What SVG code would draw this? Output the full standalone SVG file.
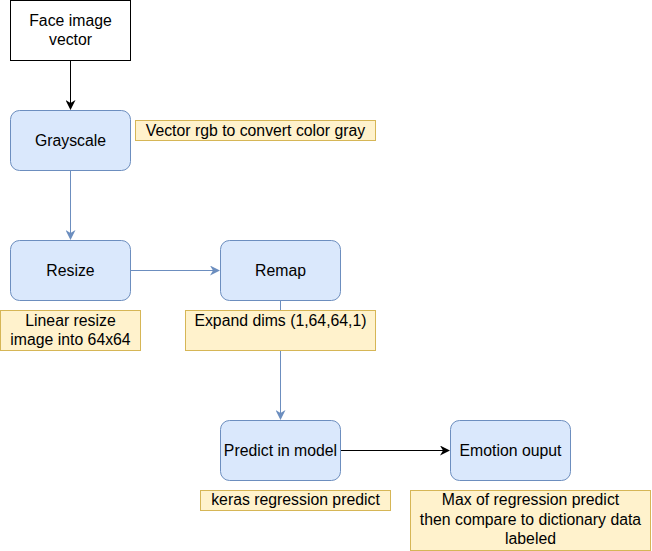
<svg xmlns="http://www.w3.org/2000/svg" width="652" height="551" viewBox="0 0 652 551">
<style>
text{font-family:"Liberation Sans",Arial,Helvetica,sans-serif;font-size:15.8px;fill:#000;text-anchor:middle}
.proc{fill:#dae8fc;stroke:#6c8ebf;stroke-width:1}
.note{fill:#fff2cc;stroke:#d6b656;stroke-width:1}
.start{fill:#fff;stroke:#000;stroke-width:1}
.blue{stroke:#6c8ebf;stroke-width:1;fill:none}
.black{stroke:#000;stroke-width:1;fill:none}
</style>
<defs>
<marker id="ab" viewBox="0 0 10 10" refX="9" refY="5" markerWidth="10" markerHeight="10" markerUnits="userSpaceOnUse" orient="auto">
<path d="M0,0 L10,5 L0,10 L3,5 Z" fill="#6c8ebf"/>
</marker>
<marker id="ak" viewBox="0 0 10 10" refX="9" refY="5" markerWidth="10" markerHeight="10" markerUnits="userSpaceOnUse" orient="auto">
<path d="M0,0 L10,5 L0,10 L3,5 Z" fill="#000"/>
</marker>
</defs>
<g id="connectors">
<path class="black" d="M70.5,60 V109" marker-end="url(#ak)"/>
<path class="blue" d="M70.5,170 V239" marker-end="url(#ab)"/>
<path class="blue" d="M130,270.5 H219" marker-end="url(#ab)"/>
<path class="blue" d="M280.5,300 V419" marker-end="url(#ab)"/>
<path class="black" d="M340,450.5 H449" marker-end="url(#ak)"/>
</g>
<g id="face">
<rect class="start" x="10.5" y="0.5" width="120" height="60"/>
<text x="70.5" y="26">Face image</text>
<text x="70.5" y="45">vector</text>
</g>
<g id="grayscale">
<rect class="proc" x="10.5" y="110.5" width="120" height="60" rx="9"/>
<text x="70.5" y="145.5">Grayscale</text>
</g>
<g id="note-gray">
<rect class="note" x="135.5" y="120.5" width="240" height="20"/>
<text x="255.5" y="135.5">Vector rgb to convert color gray</text>
</g>
<g id="resize">
<rect class="proc" x="10.5" y="240.5" width="120" height="60" rx="9"/>
<text x="70.5" y="275.5">Resize</text>
</g>
<g id="remap">
<rect class="proc" x="220.5" y="240.5" width="120" height="60" rx="9"/>
<text x="280.5" y="275.5">Remap</text>
</g>
<g id="note-resize">
<rect class="note" x="0.5" y="310.5" width="140" height="40"/>
<text x="70.5" y="326">Linear resize</text>
<text x="70.5" y="345">image into 64x64</text>
</g>
<g id="note-expand">
<rect class="note" x="185.5" y="310.5" width="190" height="40"/>
<text x="280.5" y="326">Expand dims (1,64,64,1)</text>
</g>
<g id="predict">
<rect class="proc" x="220.5" y="420.5" width="120" height="60" rx="9"/>
<text x="280.5" y="455.5">Predict in model</text>
</g>
<g id="emotion">
<rect class="proc" x="450.5" y="420.5" width="120" height="60" rx="9"/>
<text x="510.5" y="455.5">Emotion ouput</text>
</g>
<g id="note-keras">
<rect class="note" x="200.5" y="490.5" width="190" height="20"/>
<text x="295.5" y="505">keras regression predict</text>
</g>
<g id="note-max">
<rect class="note" x="410.5" y="490.5" width="240" height="60"/>
<text x="530.5" y="505">Max of regression predict</text>
<text x="530.5" y="524.5">then compare to dictionary data</text>
<text x="530.5" y="544">labeled</text>
</g>
</svg>
